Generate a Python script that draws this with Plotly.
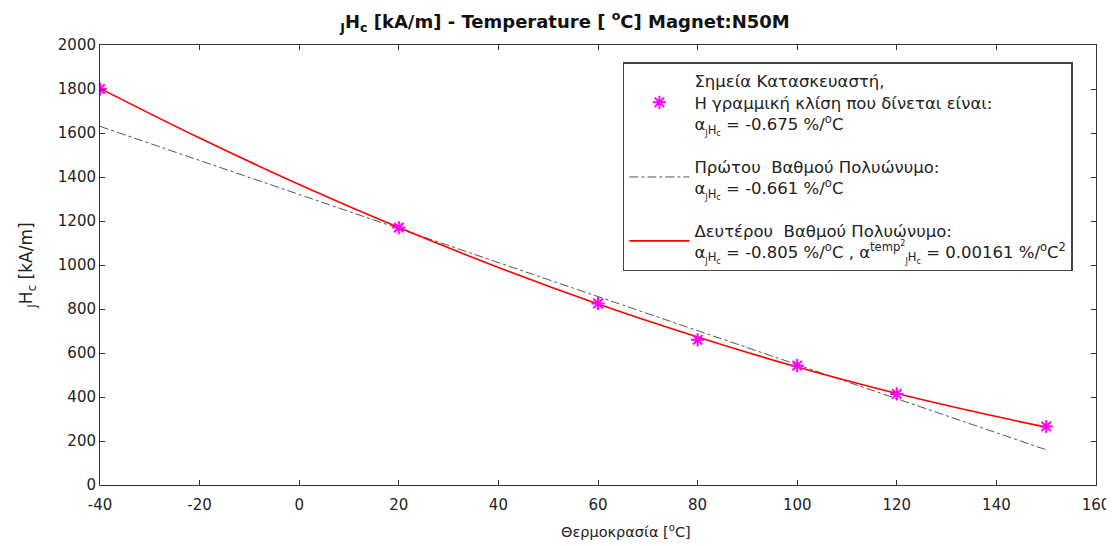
import plotly.graph_objects as go

# Manufacturer points
temp_pts = [-40, 20, 60, 80, 100, 120, 150]
hcj_pts = [1800, 1170, 825, 660, 543, 414, 266]

# First-order polynomial
temp_lin = [-40, 150]
hcj_lin = [1630, 160]

# Second-order polynomial
temp_quad = [-40, -20, 0, 20, 40, 60, 80, 100, 120, 140, 150]
hcj_quad = [1803, 1577, 1366, 1170, 989, 823, 673, 536, 416, 311, 263]

x_ticks = [-40, -20, 0, 20, 40, 60, 80, 100, 120, 140, 160]
y_ticks = [0, 200, 400, 600, 800, 1000, 1200, 1400, 1600, 1800, 2000]

sub = "α<sub><sub>J</sub>H<sub>c</sub></sub>"
name_pts = ("Σημεία Κατασκευαστή,<br>Η γραμμική κλίση που δίνεται είναι:<br>"
            + sub + " = -0.675 %/<sup>o</sup>C")
name_lin = "Πρώτου  Βαθμού Πολυώνυμο:<br>" + sub + " = -0.661 %/<sup>o</sup>C"
name_quad = ("Δευτέρου  Βαθμού Πολυώνυμο:<br>" + sub + " = -0.805 %/<sup>o</sup>C , "
             "α<sup>temp<sup>2</sup></sup><sub><sub>J</sub>H<sub>c</sub></sub> = 0.00161 %/<sup>o</sup>C<sup>2</sup>")

FONT = "DejaVu Sans"

fig = go.Figure()
fig.add_trace(go.Scatter(x=temp_lin, y=hcj_lin, mode="lines", name=name_lin, legendgroup="b",
                         line=dict(color="#555555", width=1, dash="dashdot"), legendrank=2))
fig.add_trace(go.Scatter(x=temp_quad, y=hcj_quad, mode="lines", name=name_quad, legendgroup="c",
                         line=dict(color="#ff0000", width=1.6, shape="spline"), legendrank=3))
fig.add_trace(go.Scatter(x=temp_pts, y=hcj_pts, mode="markers", name=name_pts, legendgroup="a",
                         marker=dict(symbol="asterisk-open", size=11, color="#ff00ff",
                                     line=dict(color="#ff00ff", width=2)), legendrank=1))

axis_common = dict(showline=True, linecolor="#333333", linewidth=1, mirror="ticks",
                   ticks="inside", ticklen=5, tickcolor="#333333", showgrid=False,
                   zeroline=False, tickfont=dict(family=FONT, size=15, color="#222222"))

fig.update_layout(
    width=1114, height=546,
    margin=dict(l=92, r=22, t=37, b=69),
    paper_bgcolor="white", plot_bgcolor="white",
    font=dict(family=FONT, color="#222222"),
    title=dict(text="<b><sub>J</sub>H<sub>c</sub> [kA/m] - Temperature [ <sup>o</sup>C] Magnet:N50M</b>",
               x=0.5, xanchor="center", yref="container", y=0.975, yanchor="middle",
               font=dict(size=18, family=FONT, color="#111111")),
    xaxis=dict(range=[-40, 160], tickvals=x_ticks, ticktext=[str(v) for v in x_ticks],
               ticklabelstandoff=6, **axis_common),
    yaxis=dict(range=[0, 2000], tickvals=y_ticks, ticktext=[str(v) for v in y_ticks],
               title=dict(text="<sub>J</sub>H<sub>c</sub> [kA/m]", font=dict(size=17), standoff=20),
               **axis_common),
    legend=dict(x=0.525, xanchor="left", y=0.961, yanchor="top",
                bgcolor="white", bordercolor="#444444", borderwidth=1.5,
                font=dict(family=FONT, size=16.5, color="#222222"),
                valign="middle", tracegroupgap=18, itemwidth=60),
    annotations=[dict(text="Θερμοκρασία [<sup>o</sup>C]", xref="paper", yref="paper",
                      x=0.528, y=0, yshift=-46, xanchor="center", yanchor="middle",
                      showarrow=False, font=dict(family=FONT, size=14.5, color="#222222"))],
    showlegend=True,
)

fig.write_html("out.html")
